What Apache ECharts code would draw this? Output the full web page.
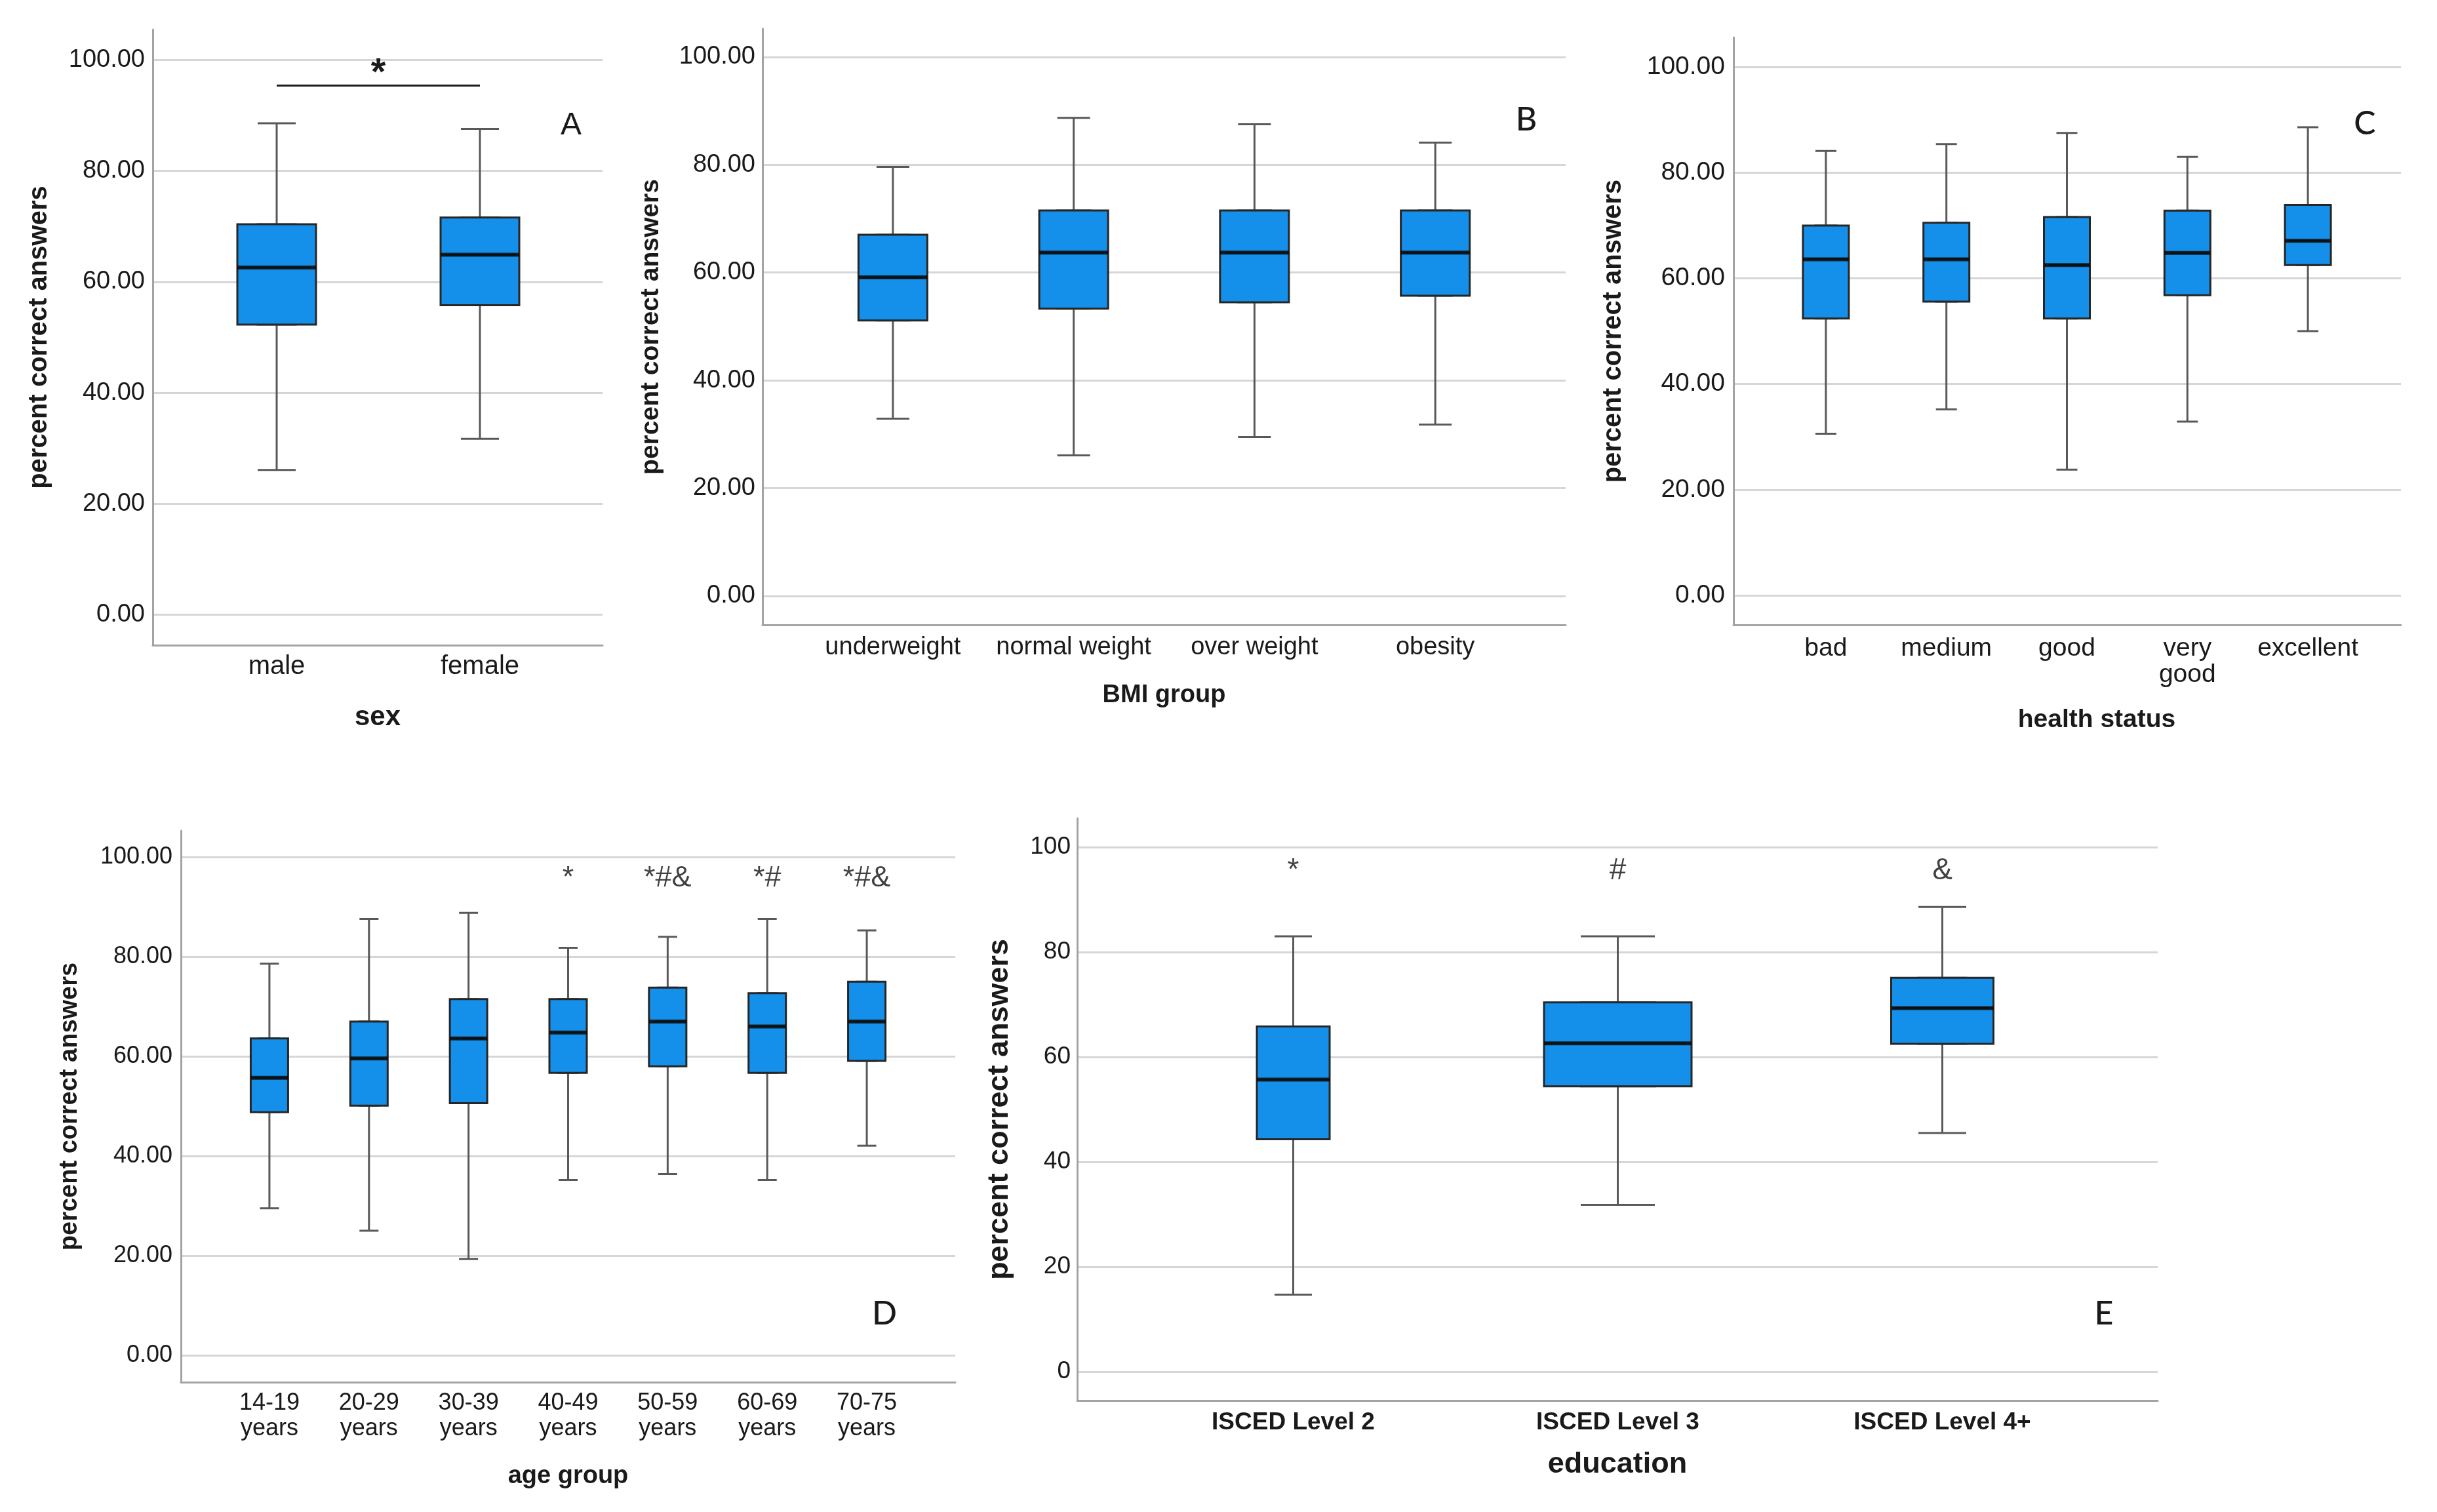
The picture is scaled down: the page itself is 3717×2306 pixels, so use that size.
<!DOCTYPE html>
<html>
<head>
<meta charset="utf-8">
<script src="https://cdn.jsdelivr.net/npm/echarts@6.0.0/dist/echarts.min.js"></script>
<style>
html,body{margin:0;padding:0;background:#fff;}
#c{width:3717px;height:2306px;}
</style>
</head>
<body>
<div id="c"></div>
<script>
// ---------------- data ----------------
const yTicks = [0, 20, 40, 60, 80, 100];
const yTitle = 'percent correct answers';

// each box: [lower whisker, Q1, median, Q3, upper whisker]
const catsA = ['male', 'female'];
const statsA = [
  [26.1, 52.3, 62.6, 70.4, 88.6],
  [31.7, 55.8, 64.9, 71.6, 87.6]
];
const sigA = { from: 'male', to: 'female', y: 95.4, text: '*' };

const catsB = ['underweight', 'normal weight', 'over weight', 'obesity'];
const statsB = [
  [32.9, 51.1, 59.1, 67.0, 79.6],
  [26.1, 53.3, 63.7, 71.5, 88.7],
  [29.5, 54.5, 63.7, 71.5, 87.5],
  [31.8, 55.7, 63.7, 71.5, 84.1]
];

const catsC = ['bad', 'medium', 'good', 'very\ngood', 'excellent'];
const statsC = [
  [30.6, 52.4, 63.6, 70.0, 84.1],
  [35.2, 55.6, 63.6, 70.5, 85.4],
  [23.8, 52.4, 62.5, 71.6, 87.5],
  [32.9, 56.8, 64.8, 72.8, 83.0],
  [50.0, 62.5, 67.1, 73.9, 88.6]
];

const catsD = ['14-19\nyears', '20-29\nyears', '30-39\nyears', '40-49\nyears', '50-59\nyears', '60-69\nyears', '70-75\nyears'];
const statsD = [
  [29.5, 48.8, 55.7, 63.6, 78.6],
  [25.0, 50.1, 59.6, 67.0, 87.6],
  [19.3, 50.6, 63.6, 71.5, 88.8],
  [35.2, 56.7, 64.8, 71.5, 81.8],
  [36.4, 58.0, 67.0, 73.8, 84.0],
  [35.2, 56.7, 66.0, 72.7, 87.6],
  [42.1, 59.1, 67.0, 75.0, 85.3]
];
const annotD = ['', '', '', '*', '*#&', '*#', '*#&'];
const annotDY = 95.8;

const catsE = ['ISCED Level 2', 'ISCED Level 3', 'ISCED Level 4+'];
const statsE = [
  [14.7, 44.3, 55.7, 65.8, 83.0],
  [31.8, 54.4, 62.6, 70.4, 83.0],
  [45.5, 62.5, 69.3, 75.1, 88.6]
];
const annotE = ['*', '#', '&'];
const annotEY = 95.5;

const panelLetters = ['A', 'B', 'C', 'D', 'E'];

// ---------------- styling / layout ----------------
const FONT = "'Liberation Sans', Arial, sans-serif";
const LETTER_FONT = "Lato, 'Liberation Sans', sans-serif";
const INK = '#1a1a1a';
const BOX_FILL = '#1590EA';
const BOX_BORDER = '#262626';
const WHISKER = '#595959';
const AXIS = '#a3a3a3';
const GRID = '#d6d6d6';

const fmt2 = v => v.toFixed(2);
const fmt0 = v => v.toFixed(0);

const L_A = { l: 233, r: 919, t: 45, b: 984, ymin: -5.5, ymax: 105.5, fmt: fmt2,
  tickSize: 38, tickMargin: 12, catSize: 40, catMargin: 13, catLine: 40, catWeight: 'normal',
  xName: 'sex', xNameSize: 42, xNameGap: 89, yNameSize: 40, yNameGap: 153,
  dataLeft: 267, dataWidth: 620, boxW: 120, capW: 58,
  letterX: 871, letterY: 192, letterFont: FONT, letterSize: 48 };
const L_B = { l: 1163, r: 2388, t: 44, b: 953, ymin: -5.35, ymax: 105.2, fmt: fmt2,
  tickSize: 38, tickMargin: 11, catSize: 38, catMargin: 16, catLine: 38, catWeight: 'normal',
  xName: 'BMI group', xNameSize: 38, xNameGap: 89, yNameSize: 39, yNameGap: 150,
  dataLeft: 1224, dataWidth: 1103, boxW: 105, capW: 50,
  letterX: 2328, letterY: 183, letterFont: LETTER_FONT, letterSize: 50 };
const L_C = { l: 2644, r: 3662, t: 57, b: 953, ymin: -5.58, ymax: 105.6, fmt: fmt2,
  tickSize: 39, tickMargin: 13, catSize: 39, catMargin: 16, catLine: 40, catWeight: 'normal',
  xName: 'health status', xNameSize: 39, xNameGap: 126, xNamePad: [0, 0, 0, 90], yNameSize: 40, yNameGap: 163,
  dataLeft: 2693, dataWidth: 919, boxW: 70, capW: 32,
  letterX: 3607, letterY: 189, letterFont: LETTER_FONT, letterSize: 50 };
const L_D = { l: 276, r: 1457, t: 1267, b: 2108, ymin: -5.4, ymax: 105.3, fmt: fmt2,
  tickSize: 36, tickMargin: 13, catSize: 36, catMargin: 13, catLine: 39, catWeight: 'normal',
  xName: 'age group', xNameSize: 38, xNameGap: 125, yNameSize: 38, yNameGap: 150,
  dataLeft: 335, dataWidth: 1063, boxW: 57, capW: 29, annotSize: 45,
  letterX: 1349, letterY: 2004, letterFont: LETTER_FONT, letterSize: 50 };
const L_E = { l: 1643, r: 3291, t: 1248, b: 2136, ymin: -5.5, ymax: 105.5, fmt: fmt0,
  tickSize: 37, tickMargin: 10, catSize: 37, catMargin: 14, catLine: 40, catWeight: 'bold',
  xName: 'education', xNameSize: 45, xNameGap: 75, yNameSize: 45, yNameGap: 96,
  groupLefts: [1725, 2220, 2715], groupWidth: 495, boxWs: [111, 225, 156], capWs: [57, 113, 73], annotSize: 46,
  letterX: 3209, letterY: 2004, letterFont: LETTER_FONT, letterSize: 50 };

// ---------------- option builder ----------------
const option = { animation: false, backgroundColor: '#ffffff', grid: [], xAxis: [], yAxis: [], series: [], graphic: [] };

function addFrame(L) {
  const gi = option.grid.length;
  option.grid.push({ left: L.l, top: L.t, width: L.r - L.l, height: L.b - L.t });
  option.xAxis.push({
    gridIndex: gi, type: 'value', min: 0, max: 1,
    axisLine: { show: true, onZero: false, lineStyle: { color: AXIS, width: 3 } },
    axisTick: { show: false }, axisLabel: { show: false }, splitLine: { show: false },
    name: L.xName, nameLocation: 'middle', nameGap: L.xNameGap,
    nameTextStyle: { fontFamily: FONT, fontWeight: 'bold', fontSize: L.xNameSize, color: INK, padding: L.xNamePad || 0 }
  });
  option.yAxis.push({
    gridIndex: gi, type: 'value', min: L.ymin, max: L.ymax,
    axisLine: { show: true, onZero: false, lineStyle: { color: AXIS, width: 3 } },
    axisTick: { show: false, customValues: yTicks },
    axisLabel: { customValues: yTicks, formatter: v => L.fmt(v), fontFamily: FONT, fontSize: L.tickSize, color: INK, margin: L.tickMargin },
    splitLine: { show: true, lineStyle: { color: GRID, width: 3 } },
    name: yTitle, nameLocation: 'middle', nameGap: L.yNameGap,
    nameTextStyle: { fontFamily: FONT, fontWeight: 'bold', fontSize: L.yNameSize, color: INK }
  });
}

function addGroup(L, cats, stats, left, width, boxW, capW, extra) {
  const gi = option.grid.length;
  option.grid.push({ left: left, top: L.t, width: width, height: L.b - L.t });
  const xb = option.xAxis.length;
  option.xAxis.push({
    gridIndex: gi, type: 'category', data: cats, position: 'bottom',
    axisLine: { show: false, onZero: false }, axisTick: { show: false }, splitLine: { show: false },
    axisLabel: { interval: 0, fontFamily: FONT, fontSize: L.catSize, fontWeight: L.catWeight, color: INK, margin: L.catMargin, lineHeight: L.catLine }
  });
  const xt = option.xAxis.length;
  option.xAxis.push({ gridIndex: gi, type: 'category', data: cats, position: 'top', show: false });
  const yi = option.yAxis.length;
  option.yAxis.push({ gridIndex: gi, type: 'value', min: L.ymin, max: L.ymax, show: false });

  // whiskers (narrow caps)
  option.series.push({
    type: 'boxplot', xAxisIndex: xt, yAxisIndex: yi, data: stats,
    boxWidth: [capW, capW], silent: true, z: 2,
    itemStyle: { color: 'rgba(0,0,0,0)', borderColor: WHISKER, borderWidth: 3 }
  });
  // boxes (Q1..Q3)
  const boxSeries = {
    type: 'boxplot', xAxisIndex: xb, yAxisIndex: yi,
    data: stats.map(s => [s[1], s[1], s[2], s[3], s[3]]),
    boxWidth: [boxW, boxW], silent: true, z: 3,
    itemStyle: { color: BOX_FILL, borderColor: BOX_BORDER, borderWidth: 3 }
  };
  if (extra && extra.sig) {
    boxSeries.markLine = {
      silent: true, symbol: ['none', 'none'], animation: false,
      lineStyle: { color: INK, width: 3, type: 'solid' },
      label: { show: true, position: 'middle', formatter: extra.sig.text, fontFamily: FONT, fontWeight: 'bold', fontSize: 58, color: INK, distance: -12 },
      data: [[{ coord: [extra.sig.from, extra.sig.y] }, { coord: [extra.sig.to, extra.sig.y] }]]
    };
  }
  option.series.push(boxSeries);
  // medians
  option.series.push({
    type: 'scatter', xAxisIndex: xb, yAxisIndex: yi, silent: true, z: 4,
    data: stats.map((s, i) => [i, s[2]]),
    symbol: 'rect', symbolSize: [boxW, 6], itemStyle: { color: '#0a0a0a' }
  });
  // annotations
  if (extra && extra.annot) {
    const pts = [];
    extra.annot.forEach((t, i) => { if (t) pts.push([i, extra.annotY, t]); });
    option.series.push({
      type: 'scatter', xAxisIndex: xb, yAxisIndex: yi, silent: true, z: 5,
      data: pts, symbolSize: 0,
      label: { show: true, position: 'inside', formatter: p => p.data[2], fontFamily: FONT, fontWeight: 500, fontSize: extra.annotSize, color: '#111' }
    });
  }
}

function addLetter(L, text) {
  option.graphic.push({
    type: 'text', x: L.letterX, y: L.letterY, silent: true,
    style: { text: text, fontFamily: L.letterFont, fontSize: L.letterSize, fontWeight: 500, fill: INK, align: 'center', verticalAlign: 'middle' }
  });
}

[L_A, L_B, L_C, L_D, L_E].forEach(addFrame);

addGroup(L_A, catsA, statsA, L_A.dataLeft, L_A.dataWidth, L_A.boxW, L_A.capW, { sig: sigA });
addGroup(L_B, catsB, statsB, L_B.dataLeft, L_B.dataWidth, L_B.boxW, L_B.capW);
addGroup(L_C, catsC, statsC, L_C.dataLeft, L_C.dataWidth, L_C.boxW, L_C.capW);
addGroup(L_D, catsD, statsD, L_D.dataLeft, L_D.dataWidth, L_D.boxW, L_D.capW,
  { annot: annotD, annotY: annotDY, annotSize: L_D.annotSize });
catsE.forEach((c, k) => {
  addGroup(L_E, [c], [statsE[k]], L_E.groupLefts[k], L_E.groupWidth, L_E.boxWs[k], L_E.capWs[k],
    { annot: [annotE[k]], annotY: annotEY, annotSize: L_E.annotSize });
});

[L_A, L_B, L_C, L_D, L_E].forEach((L, i) => addLetter(L, panelLetters[i]));

const chart = echarts.init(document.getElementById('c'));
chart.setOption(option);
</script>
</body>
</html>
